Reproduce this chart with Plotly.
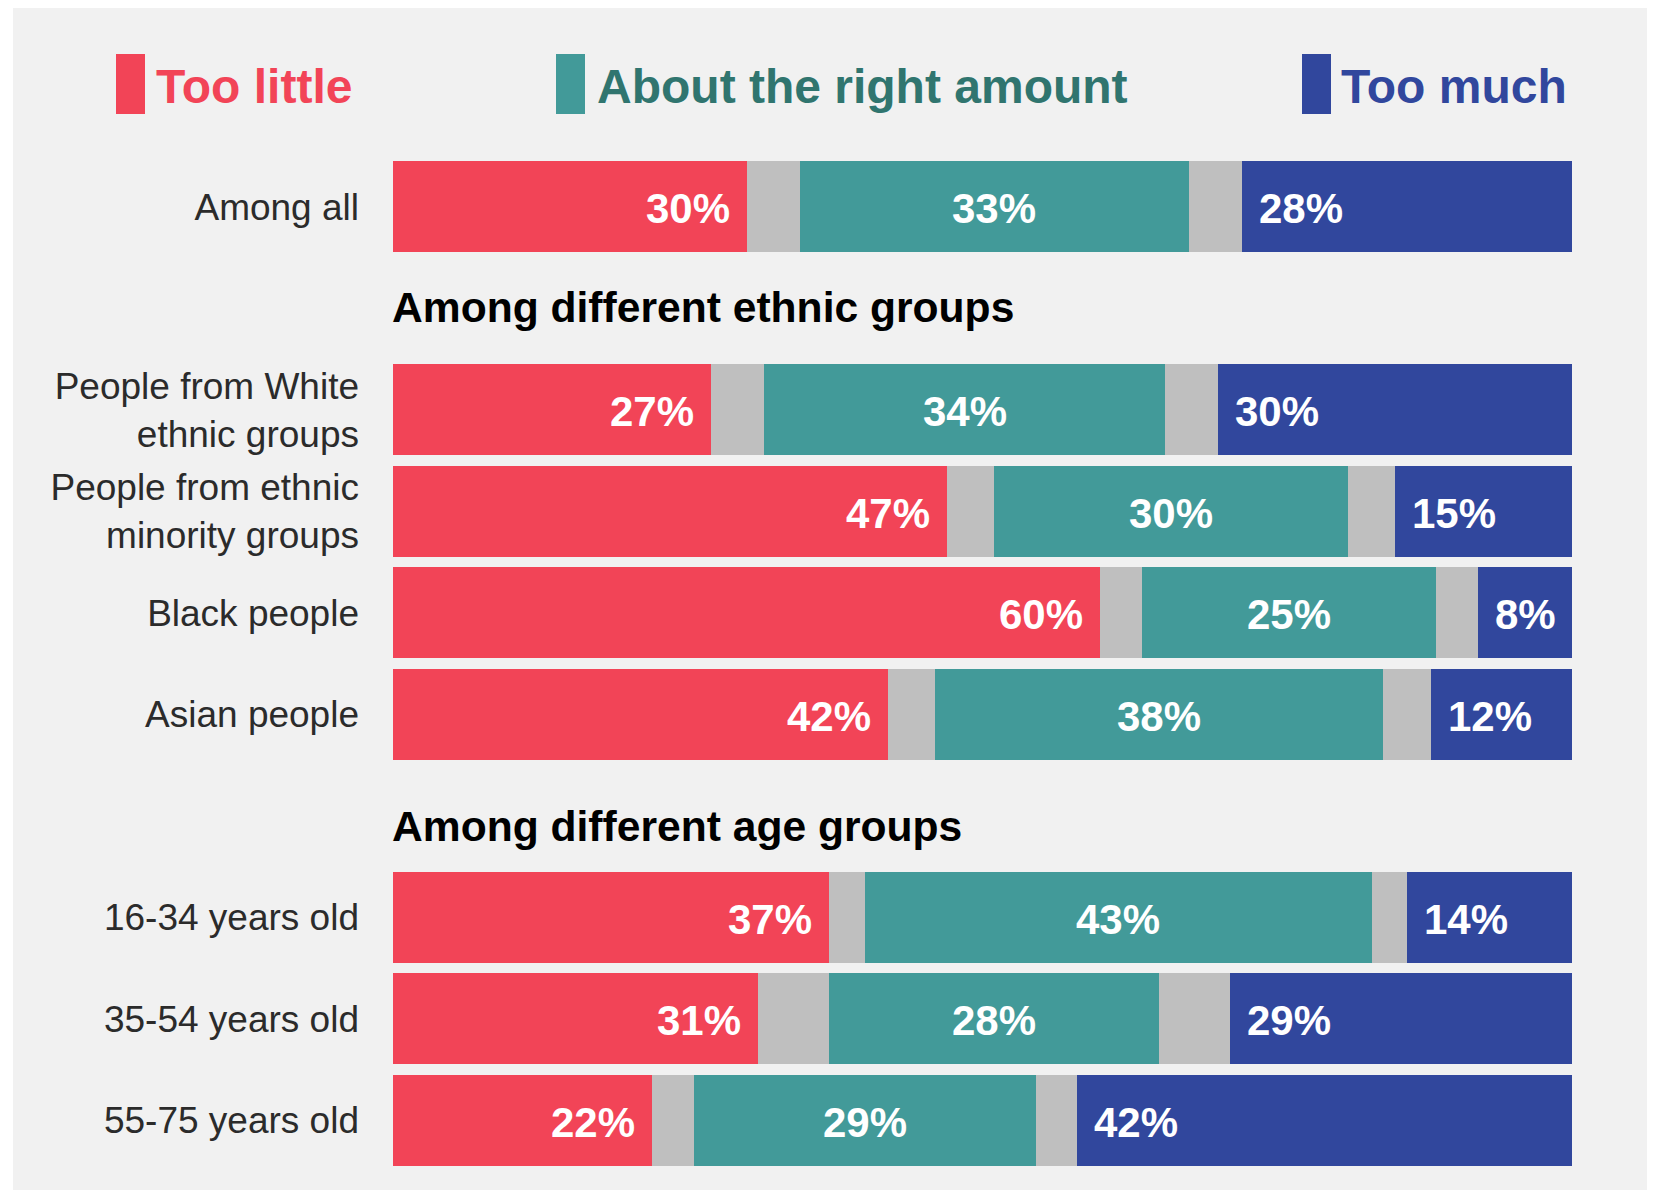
import plotly.graph_objects as go

# ---------------- data ----------------
groups = ["Among all", "People from White ethnic groups", "People from ethnic minority groups",
          "Black people", "Asian people", "16-34 years old", "35-54 years old", "55-75 years old"]
group_labels = ["Among all", "People from White<br>ethnic groups", "People from ethnic<br>minority groups",
                "Black people", "Asian people", "16-34 years old", "35-54 years old", "55-75 years old"]
too_little = [30, 27, 47, 60, 42, 37, 31, 22]
about_right = [33, 34, 30, 25, 38, 43, 28, 29]
too_much = [28, 30, 15, 8, 12, 14, 29, 42]
gap_before_right = [4.5, 4.5, 4, 3.5, 4, 3, 6, 3.5]
gap_after_right = [4.5, 4.5, 4, 3.5, 4, 3, 6, 3.5]
headings = ["Among different ethnic groups", "Among different age groups"]
legend_names = ["Too little", "About the right amount", "Too much"]

# row layout order (headings occupy their own slot)
row_order = ["Among all", "H0",
             "People from White ethnic groups", "People from ethnic minority groups",
             "Black people", "Asian people", "H1",
             "16-34 years old", "35-54 years old", "55-75 years old"]

# ---------------- style ----------------
RED = "#F24457"
TEAL = "#429A99"
TEAL_TXT = "#30756F"
BLUE = "#31479D"
GREY = "#BFBFBF"
PANEL = "#F1F1F1"
FONT = "Liberation Sans, Arial, sans-serif"

W, H = 1644, 1182
ML, MR, MT, MB = 385, 80, 148, 19
PW = W - ML - MR
PH = H - MT - MB


def px_x(X):
    return (X - ML) / PW


def px_y(Y):
    return 1 - (Y - MT) / PH


ypos = [row_order.index(g) for g in groups]

fig = go.Figure()
series = [
    (too_little, RED),
    (gap_before_right, GREY),
    (about_right, TEAL),
    (gap_after_right, GREY),
    (too_much, BLUE),
]
for vals, col in series:
    fig.add_trace(go.Bar(
        x=vals, y=ypos, orientation="h", marker=dict(color=col, line=dict(width=0)),
        width=0.9, hoverinfo="skip", showlegend=False,
    ))

annotations = []
lab_font = dict(family=FONT, size=42, color="white", weight="bold")
for i, g in enumerate(groups):
    y = ypos[i]
    end_red = too_little[i]
    start_teal = end_red + gap_before_right[i]
    mid_teal = start_teal + about_right[i] / 2
    start_blue = start_teal + about_right[i] + gap_after_right[i]
    annotations.append(dict(x=end_red, y=y, xref="x", yref="y", text=f"{too_little[i]}%",
                            showarrow=False, xanchor="right", yanchor="middle", xshift=-15, yshift=-2,
                            font=lab_font))
    annotations.append(dict(x=mid_teal, y=y, xref="x", yref="y", text=f"{about_right[i]}%",
                            showarrow=False, xanchor="center", yanchor="middle", yshift=-2,
                            font=lab_font))
    annotations.append(dict(x=start_blue, y=y, xref="x", yref="y", text=f"{too_much[i]}%",
                            showarrow=False, xanchor="left", yanchor="middle", xshift=15, yshift=-2,
                            font=lab_font))

# section headings
for k, h in enumerate(headings):
    annotations.append(dict(x=0, y=row_order.index(f"H{k}"), xref="x", yref="y", text=h,
                            showarrow=False, xanchor="left", yanchor="middle",
                            xshift=-3, yshift=1 if k == 0 else -10,
                            font=dict(family=FONT, size=42.6, color="#000000", weight="bold")))

# legend (custom)
leg_colors = [RED, TEAL, BLUE]
leg_txt_colors = [RED, TEAL_TXT, BLUE]
leg_rect_x = [108, 548, 1294]
leg_text_x = [146, 587, 1331]
shapes = [dict(type="rect", xref="paper", yref="paper", layer="below",
               x0=px_x(5), x1=px_x(1639), y0=px_y(H + 5), y1=px_y(-5),
               fillcolor=PANEL, line=dict(width=0))]
for n, c, tc, rx, tx in zip(legend_names, leg_colors, leg_txt_colors, leg_rect_x, leg_text_x):
    shapes.append(dict(type="rect", xref="paper", yref="paper",
                       x0=px_x(rx), x1=px_x(rx + 29), y0=px_y(106), y1=px_y(46),
                       fillcolor=c, line=dict(width=0)))
    annotations.append(dict(x=px_x(tx), y=px_y(79), xref="paper", yref="paper", text=n,
                            showarrow=False, xanchor="left", yanchor="middle",
                            font=dict(family=FONT, size=48, color=tc, weight="bold")))

fig.update_layout(
    barmode="stack",
    width=W, height=H,
    margin=dict(l=ML, r=MR, t=MT, b=MB, pad=0),
    paper_bgcolor="white",
    plot_bgcolor="rgba(0,0,0,0)",
    bargap=0.1,
    shapes=shapes,
    annotations=annotations,
    xaxis=dict(range=[0, 100], visible=False, fixedrange=True),
    yaxis=dict(range=[9.5, -0.5], tickmode="array", tickvals=ypos, ticktext=group_labels,
               showgrid=False, zeroline=False, showline=False, ticks="",
               ticklabelstandoff=33,
               tickfont=dict(family=FONT, size=37, color="#2B2B2B"), fixedrange=True),
    showlegend=False,
)

fig.write_html("out.html")
